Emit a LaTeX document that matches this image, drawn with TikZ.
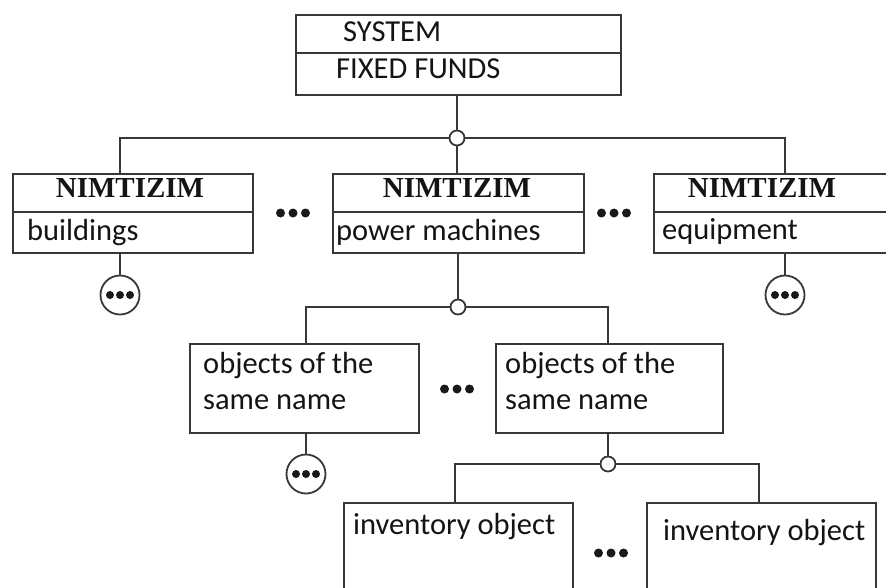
\documentclass[tikz,border=0pt]{standalone}
\usepackage{fontspec}
\setmainfont{Carlito}
\newfontfamily\nimfont{Liberation Serif}
\begin{document}
\begin{tikzpicture}[x=1pt,y=-1pt,
  ln/.style={draw=black!78, line width=1.8pt},
  box/.style={ln, fill=white, rectangle, inner sep=0pt, anchor=north west},
  lbl/.style={anchor=base west, inner sep=0pt, font=\fontsize{30.5}{34}\selectfont, text=black!92},
  nim/.style={anchor=base, inner sep=0pt, font=\nimfont\bfseries\fontsize{29}{32}\selectfont, text=black!92},
  junc/.style={circle, ln, fill=white, minimum size=15pt, inner sep=0pt},
  ellc/.style={circle, ln, fill=white, minimum size=39pt, inner sep=0pt},
  ell/.pic={\fill[black!90] (-12.5,0) circle (4.5pt) (0,0) circle (4.5pt) (12.5,0) circle (4.5pt);},
  ellsmall/.pic={\fill[black!90] (-10,0) circle (4pt) (0,0) circle (4pt) (10,0) circle (4pt);}
]
\useasboundingbox (0,0) rectangle (886,587);
\clip (0,0) rectangle (886,587);

% top box
\node[box, minimum width=325pt, minimum height=80pt] (top) at (295,14) {};
\coordinate (topdiv) at (0,53);
\draw[ln] (top.west |- topdiv) -- (top.east |- topdiv);
\node[lbl] (sys) at (343,41) {SYSTEM};
\node[lbl] (ff) at (336,78) {FIXED FUNDS};

% level 1 boxes
\node[box, minimum width=240pt, minimum height=79pt] (L1) at (12,173) {};
\node[box, minimum width=251pt, minimum height=79pt] (M1) at (332,173) {};
\node[box, minimum width=245pt, minimum height=79pt] (R1) at (653,173) {};
\coordinate (div1) at (0,212);
\draw[ln] (L1.west |- div1) -- (L1.east |- div1);
\draw[ln] (M1.west |- div1) -- (M1.east |- div1);
\draw[ln] (R1.west |- div1) -- (R1.east |- div1);
\node[nim] (n1) at (130,197) {NIMTIZIM};
\node[nim] (n2) at (457,197) {NIMTIZIM};
\node[nim] (n3) at (762,197) {NIMTIZIM};
\node[lbl] (b1) at (27,240) {buildings};
\node[lbl] (b2) at (336,240) {power machines};
\node[lbl] (b3) at (662,239) {equipment};

% junction 0
\node[junc] (j0) at (457,138) {};
\coordinate (h0l) at (120,138);
\coordinate (h0r) at (785,138);
\draw[ln] (top.south -| j0) -- (j0.north);
\draw[ln] (j0.west) -- (h0l) -- (L1.north -| h0l);
\draw[ln] (j0.east) -- (h0r) -- (R1.north -| h0r);
\draw[ln] (j0.south) -- (M1.north -| j0);

\pic (d1) at (293,213) {ell};
\pic (d2) at (614,213) {ell};

% ellipsis circles level 1
\node[ellc] (e1) at (120,295) {};
\pic (e1d) at (e1) {ellsmall};
\draw[ln] (L1.south -| e1) -- (e1.north);
\node[ellc] (e2) at (785,295) {};
\pic (e2d) at (e2) {ellsmall};
\draw[ln] (R1.south -| e2) -- (e2.north);

% level 2
\node[junc] (j1) at (458,307) {};
\draw[ln] (M1.south -| j1) -- (j1.north);
\node[box, minimum width=229pt, minimum height=89pt] (O1) at (189,343) {};
\node[box, minimum width=227pt, minimum height=89pt] (O2) at (495,343) {};
\coordinate (h1l) at (306,307);
\coordinate (h1r) at (608,307);
\draw[ln] (j1.west) -- (h1l) -- (O1.north -| h1l);
\draw[ln] (j1.east) -- (h1r) -- (O2.north -| h1r);
\node[lbl] (o1a) at (203,373) {objects of the};
\node[lbl] (o1b) at (203,409) {same name};
\node[lbl] (o2a) at (505,373) {objects of the};
\node[lbl] (o2b) at (505,409) {same name};
\pic (d3) at (457,389) {ell};

\node[ellc] (e3) at (306,474) {};
\pic (e3d) at (e3) {ellsmall};
\draw[ln] (O1.south -| e3) -- (e3.north);

% level 3
\node[junc] (j2) at (608,464) {};
\draw[ln] (O2.south -| j2) -- (j2.north);
\node[box, minimum width=229pt, minimum height=120pt] (I1) at (343,502) {};
\node[box, minimum width=229pt, minimum height=120pt] (I2) at (646,502) {};
\coordinate (h2l) at (455,464);
\coordinate (h2r) at (759,464);
\draw[ln] (j2.west) -- (h2l) -- (I1.north -| h2l);
\draw[ln] (j2.east) -- (h2r) -- (I2.north -| h2r);
\node[lbl] (i1) at (353,534) {inventory object};
\node[lbl] (i2) at (663,540) {inventory object};
\pic (d4) at (611,553) {ell};
\end{tikzpicture}
\end{document}
